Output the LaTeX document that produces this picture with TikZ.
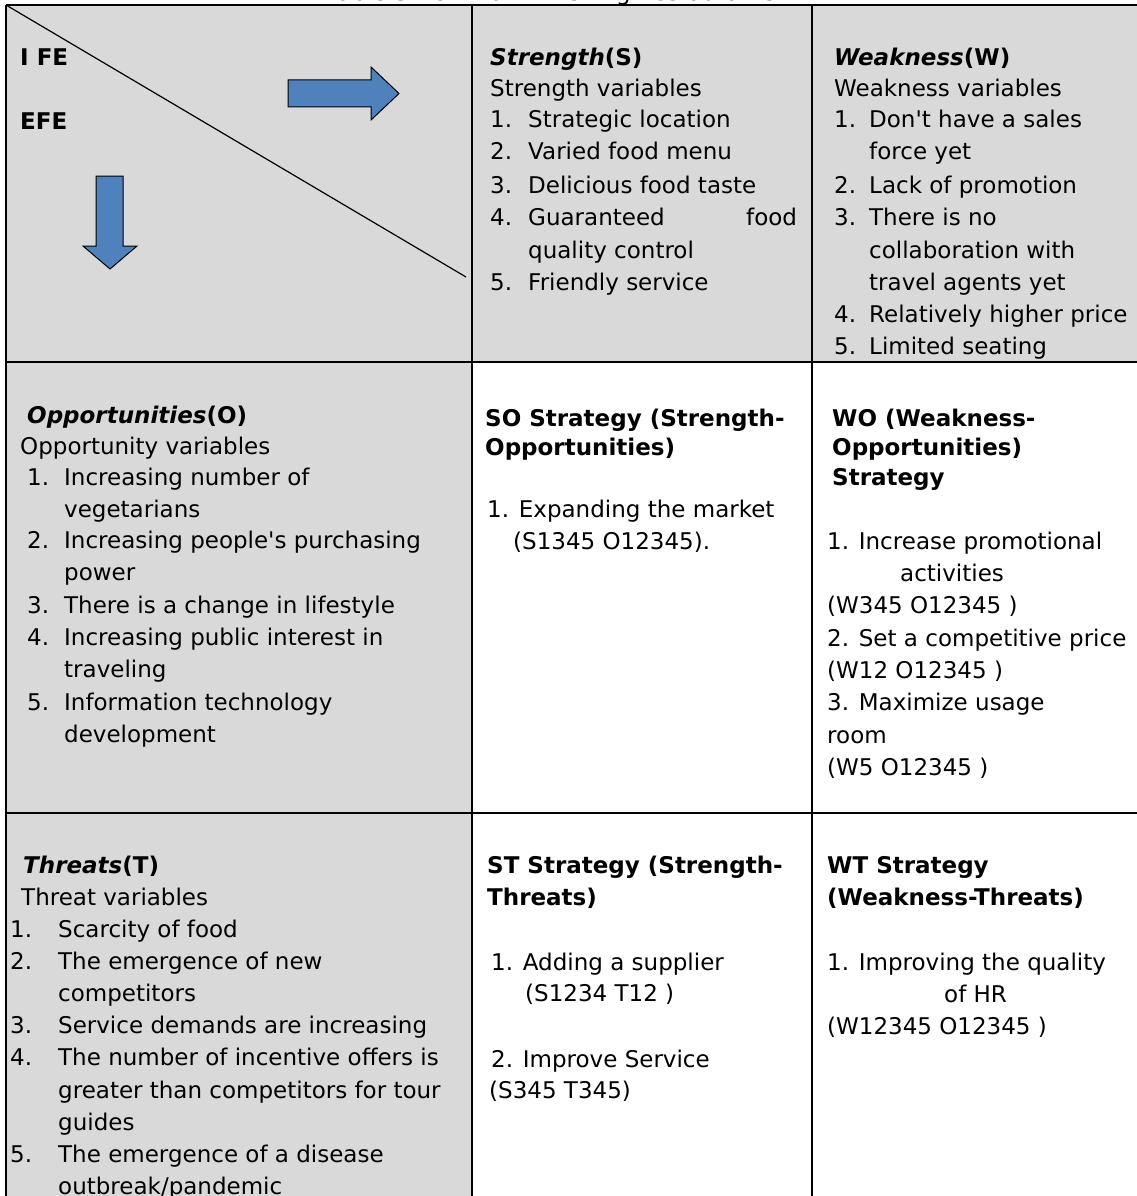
\documentclass[tikz,border=0pt]{standalone}
\usepackage{fontspec}
\setmainfont{DejaVu Sans}[Ligatures=TeXOff]
\definecolor{cellgray}{HTML}{D9D9D9}
\definecolor{arrowblue}{HTML}{4F81BD}
\newcommand\Num[2]{\makebox[#1][l]{#2}}
\tikzset{
  txt/.style={font=\fontsize{23}{28}\selectfont, inner sep=0pt, anchor=base west},
  hd/.style={txt, font=\fontsize{23}{28}\selectfont\bfseries},
  gridline/.style={line width=1.3pt, black},
  bluearrow/.style={fill=arrowblue, draw=black, line width=1pt, line join=miter},
}
\begin{document}
\begin{tikzpicture}[x=1pt,y=-1pt]
\useasboundingbox (0,0) rectangle (1137,1196);
\clip (0,0) rectangle (1137,1196);
% title (cut off at the top)
\node[txt] (title) at (327,0.3) {Table SWOT Matrix Fishing Restaurants};
% fills
\fill[cellgray] (6,5) rectangle (472,1260);
\fill[cellgray] (472,5) rectangle (1145,362);
% grid
\draw[gridline] (6,5) -- (1145,5);
\draw[gridline] (6,362) -- (1145,362);
\draw[gridline] (6,813) -- (1145,813);
\draw[gridline] (6,5) -- (6,1260);
\draw[gridline] (472,5) -- (472,1260);
\draw[gridline] (812,5) -- (812,1260);
\draw[line width=1.2pt] (6,5) -- (466,277);
% arrows
\draw[bluearrow] (288,80) -- (371,80) -- (371,67) -- (399,93.5) -- (371,120) -- (371,107) -- (288,107) -- cycle;
\draw[bluearrow] (96,176) -- (123,176) -- (123,246) -- (137,246) -- (110,269) -- (83,246) -- (96,246) -- cycle;
% corner cell
\node[hd] (ife) at (20,66) {I FE};
\node[hd] (efe) at (20,130) {EFE};
% Strength
\node[txt] (s0) at (490,66) {\textbf{\textit{Strength}}\textbf{(S)}};
\node[txt] (s1) at (490,97) {Strength variables};
\node[txt] (s2) at (490,128) {\Num{38pt}{1.}Strategic location};
\node[txt] (s3) at (490,160) {\Num{38pt}{2.}Varied food menu};
\node[txt] (s4) at (490,193) {\Num{38pt}{3.}Delicious food taste};
\node[txt] (s5) at (490,225) {\Num{38pt}{4.}Guaranteed};
\node[txt] (s5b) at (746,225) {food};
\node[txt] (s6) at (528,258) {quality control};
\node[txt] (s7) at (490,290) {\Num{38pt}{5.}Friendly service};
% Weakness
\node[txt] (w0) at (834,66) {\textbf{\textit{Weakness}}\textbf{(W)}};
\node[txt] (w1) at (834,97) {Weakness variables};
\node[txt] (w2) at (834,128) {\Num{35pt}{1.}Don't have a sales};
\node[txt] (w3) at (869,160) {force yet};
\node[txt] (w4) at (834,193) {\Num{35pt}{2.}Lack of promotion};
\node[txt] (w5) at (834,225) {\Num{35pt}{3.}There is no};
\node[txt] (w6) at (869,258) {collaboration with};
\node[txt] (w7) at (869,290) {travel agents yet};
\node[txt] (w8) at (834,322) {\Num{35pt}{4.}Relatively higher price};
\node[txt] (w9) at (834,354) {\Num{35pt}{5.}Limited seating};
% Opportunities
\node[txt] (o0) at (27,423) {\textbf{\textit{Opportunities}}\textbf{(O)}};
\node[txt] (o1) at (20,454) {Opportunity variables};
\node[txt] (o2) at (27,485) {\Num{37pt}{1.}Increasing number of};
\node[txt] (o3) at (64,517) {vegetarians};
\node[txt] (o4) at (27,548) {\Num{37pt}{2.}Increasing people's purchasing};
\node[txt] (o5) at (64,580) {power};
\node[txt] (o6) at (27,613) {\Num{37pt}{3.}There is a change in lifestyle};
\node[txt] (o7) at (27,645) {\Num{37pt}{4.}Increasing public interest in};
\node[txt] (o8) at (64,677) {traveling};
\node[txt] (o9) at (27,710) {\Num{37pt}{5.}Information technology};
\node[txt] (o10) at (64,742) {development};
% SO
\node[hd] (so0) at (485,426) {SO Strategy (Strength-};
\node[hd] (so1) at (485,455) {Opportunities)};
\node[txt] (so2) at (487,517) {1. Expanding the market};
\node[txt] (so3) at (513,549) {(S1345 O12345).};
% WO
\node[hd] (wo0) at (832,426) {WO (Weakness-};
\node[hd] (wo1) at (832,455) {Opportunities)};
\node[hd] (wo2) at (832,485) {Strategy};
\node[txt] (wo3) at (827,549) {1. Increase promotional};
\node[txt] (wo4) at (900,581) {activities};
\node[txt] (wo5) at (827,613) {(W345 O12345 )};
\node[txt] (wo6) at (827,646) {2. Set a competitive price};
\node[txt] (wo7) at (827,678) {(W12 O12345 )};
\node[txt] (wo8) at (827,710) {3. Maximize usage};
\node[txt] (wo9) at (827,743) {room};
\node[txt] (wo10) at (827,775) {(W5 O12345 )};
% Threats
\node[txt] (t0) at (23,873) {\textbf{\textit{Threats}}\textbf{(T)}};
\node[txt] (t1) at (21,905) {Threat variables};
\node[txt] (t2) at (10,937) {\Num{48pt}{1.}Scarcity of food};
\node[txt] (t3) at (10,969) {\Num{48pt}{2.}The emergence of new};
\node[txt] (t4) at (58,1001) {competitors};
\node[txt] (t5) at (10,1033) {\Num{48pt}{3.}Service demands are increasing};
\node[txt] (t6) at (10,1065) {\Num{48pt}{4.}The number of incentive offers is};
\node[txt] (t7) at (58,1098) {greater than competitors for tour};
\node[txt] (t8) at (58,1130) {guides};
\node[txt] (t9) at (10,1162) {\Num{48pt}{5.}The emergence of a disease};
\node[txt] (t10) at (58,1194) {outbreak/pandemic};
% ST
\node[hd] (st0) at (487,873) {ST Strategy (Strength-};
\node[hd] (st1) at (487,905) {Threats)};
\node[txt] (st2) at (491,970) {1. Adding a supplier};
\node[txt] (st3) at (525,1001) {(S1234 T12 )};
\node[txt] (st4) at (491,1067) {2. Improve Service};
\node[txt] (st5) at (489,1098) {(S345 T345)};
% WT
\node[hd] (wt0) at (827,873) {WT Strategy};
\node[hd] (wt1) at (827,905) {(Weakness-Threats)};
\node[txt] (wt2) at (827,970) {1. Improving the quality};
\node[txt] (wt3) at (944,1002) {of HR};
\node[txt] (wt4) at (827,1034) {(W12345 O12345 )};
\end{tikzpicture}
\end{document}
